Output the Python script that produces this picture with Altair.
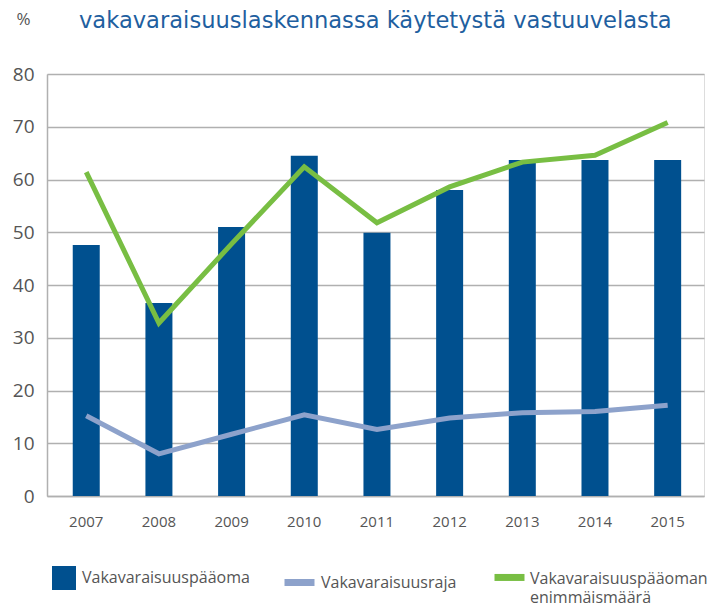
import altair as alt
import pandas as pd

years = ["2007", "2008", "2009", "2010", "2011", "2012", "2013", "2014", "2015"]
capital = [47.6, 36.6, 51.0, 64.5, 49.9, 58.0, 63.7, 63.7, 63.7]
solvency_limit = [15.2, 8.0, 11.7, 15.4, 12.6, 14.8, 15.8, 16.0, 17.2]
capital_max = [61.4, 32.8, 47.8, 62.4, 51.8, 58.6, 63.3, 64.6, 70.8]

s_bar = "Vakavaraisuuspääoma"
s_limit = "Vakavaraisuusraja"
s_max = "Vakavaraisuuspääoman enimmäismäärä"
s_max_lines = ["Vakavaraisuuspääoman", "enimmäismäärä"]

title_text = "vakavaraisuuslaskennassa käytetystä vastuuvelasta"
y_ticks = [0, 10, 20, 30, 40, 50, 60, 70, 80]

bar_df = pd.DataFrame({"year": years, "value": capital, "series": s_bar})
limit_df = pd.DataFrame({"year": years, "value": solvency_limit, "series": s_limit})
max_df = pd.DataFrame({"year": years, "value": capital_max, "series": s_max})

FONT = "Open Sans"
GRAY = "#555555"
GRID = "#b0b0b0"

x = alt.X("year:N", sort=years,
          scale=alt.Scale(paddingInner=0, paddingOuter=0.02, align=1),
          axis=alt.Axis(title=None, labelAngle=0, ticks=False, domain=True,
                        domainColor=GRID, domainWidth=1.5, grid=False,
                        labelFontSize=15, labelColor=GRAY, labelFont=FONT,
                        labelPadding=18))
y = alt.Y("value:Q",
          scale=alt.Scale(domain=[0, 80], nice=False, zero=True),
          axis=alt.Axis(values=y_ticks, grid=True, gridColor=GRID, gridWidth=1.5,
                        domain=True, domainColor=GRID, domainWidth=1.5, ticks=False,
                        labelFontSize=19, labelColor=GRAY, labelFont=FONT,
                        labelPadding=13,
                        title="%", titleAngle=0, titleX=-24, titleY=-55,
                        titleAlign="center", titleBaseline="middle",
                        titleFontSize=17, titleFontWeight="normal",
                        titleColor=GRAY, titleFont=FONT))

common_legend = dict(orient="none", title=None, labelFontSize=16, labelColor=GRAY,
                     labelFont=FONT, padding=0, labelLimit=300)

bars = alt.Chart(bar_df).mark_bar(size=27).encode(
    x=x, y=y,
    fill=alt.Fill("series:N",
                  scale=alt.Scale(domain=[s_bar], range=["#00508f"]),
                  legend=alt.Legend(legendX=5, legendY=492, symbolType="square",
                                    symbolSize=576, symbolStrokeWidth=0,
                                    labelOffset=6, **common_legend)),
)

limit_line = alt.Chart(limit_df).mark_line(strokeWidth=5).encode(
    x=x, y=y,
    stroke=alt.Stroke("series:N",
                      scale=alt.Scale(domain=[s_limit], range=["#8da2cb"]),
                      legend=alt.Legend(legendX=234, legendY=490, symbolType="stroke",
                                        symbolSize=900, symbolStrokeWidth=7,
                                        labelOffset=3, **common_legend)),
)

max_line = alt.Chart(max_df).mark_line(strokeWidth=5).encode(
    x=x, y=y,
    color=alt.Color("series:N",
                    scale=alt.Scale(domain=[s_max], range=["#78be43"]),
                    legend=alt.Legend(legendX=444, legendY=486,
                                      symbolType="M-1,-0.07H1",
                                      symbolSize=900, symbolStrokeWidth=7,
                                      labelOffset=2,
                                      labelExpr="['" + s_max_lines[0] + "', '" + s_max_lines[1] + "']",
                                      **common_legend)),
)

chart = alt.layer(bars, limit_line, max_line).properties(
    width=657, height=422,
    autosize=alt.AutoSizeParams(type="none"),
    padding={"left": 39, "top": 66, "right": 8, "bottom": 111},
    title=alt.Title(title_text, anchor="start", frame="group", dx=32, offset=0, dy=41,
                    baseline="alphabetic",
                    fontSize=22.6, fontWeight="normal", color="#1f5fa0",
                    font="DejaVu Sans"),
).configure_view(stroke=None).configure(style={"guide-label": {"lineHeight": 19}})

chart.save("out.html", embed_options={"renderer": "svg", "actions": False})
